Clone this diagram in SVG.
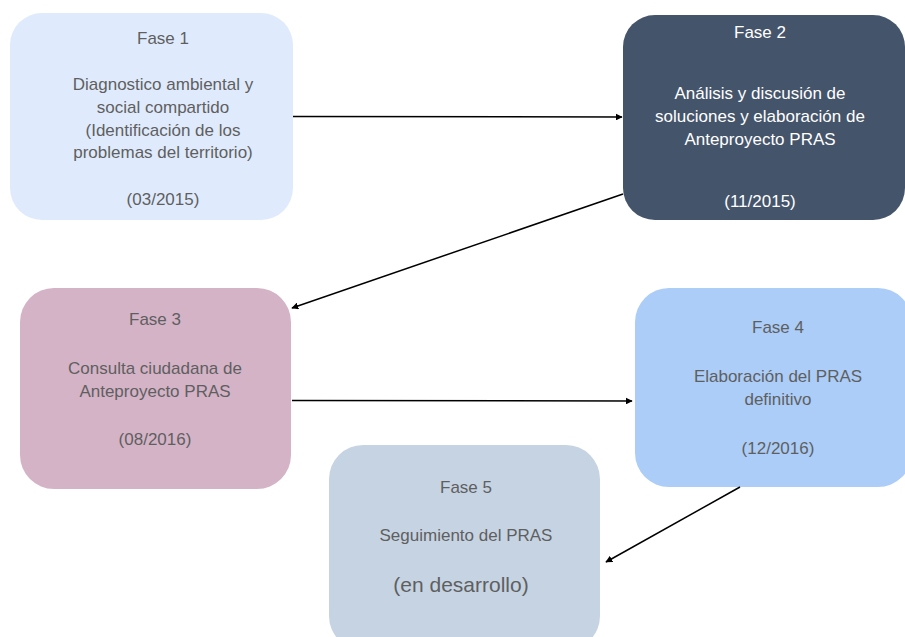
<svg xmlns="http://www.w3.org/2000/svg" width="905" height="637" viewBox="0 0 905 637">
<defs>
<style>
.t{font-family:"Liberation Sans",Arial,sans-serif;font-size:17px;fill:#5f5f5f;text-anchor:middle}
.w{fill:#ffffff}
.big{font-size:21px}
.c{stroke:#000;stroke-width:1.5;fill:none;marker-end:url(#ah)}
</style>
<marker id="ah" viewBox="0 0 10 10" refX="9" refY="5" markerWidth="7" markerHeight="7" markerUnits="userSpaceOnUse" orient="auto">
<path d="M0,0 L10,5 L0,10 z" fill="#000"/>
</marker>
</defs>
<rect width="905" height="637" fill="#ffffff"/>
<g id="fase1">
<rect x="10" y="13" width="283" height="207" rx="32" fill="#dfebfc"/>
<text class="t" x="163" y="44">Fase 1</text>
<text class="t" x="163" y="90">Diagnostico ambiental y</text>
<text class="t" x="163" y="113">social compartido</text>
<text class="t" x="163" y="135.5">(Identificación de los</text>
<text class="t" x="163" y="158">problemas del territorio)</text>
<text class="t" x="163" y="205">(03/2015)</text>
</g>
<g id="fase2">
<rect x="623" y="15" width="282" height="205" rx="32" fill="#44546a"/>
<text class="t w" x="760" y="38">Fase 2</text>
<text class="t w" x="760" y="99">Análisis y discusión de</text>
<text class="t w" x="760" y="122">soluciones y elaboración de</text>
<text class="t w" x="760" y="145">Anteproyecto PRAS</text>
<text class="t w" x="760" y="207">(11/2015)</text>
</g>
<g id="fase3">
<rect x="20" y="288" width="271" height="201" rx="34" fill="#d4b3c7"/>
<text class="t" x="155" y="325">Fase 3</text>
<text class="t" x="155" y="374">Consulta ciudadana de</text>
<text class="t" x="155" y="396.5">Anteproyecto PRAS</text>
<text class="t" x="155" y="445">(08/2016)</text>
</g>
<g id="fase4">
<rect x="635" y="288" width="277" height="199" rx="34" fill="#abcdf8"/>
<text class="t" x="778" y="333">Fase 4</text>
<text class="t" x="778" y="382">Elaboración del PRAS</text>
<text class="t" x="778" y="404.5">definitivo</text>
<text class="t" x="778" y="454">(12/2016)</text>
</g>
<g id="fase5">
<rect x="329" y="445" width="271" height="205" rx="34" fill="#c6d3e3"/>
<text class="t" x="466" y="493">Fase 5</text>
<text class="t" x="466" y="541">Seguimiento del PRAS</text>
<text class="t big" x="461" y="592">(en desarrollo)</text>
</g>
<g id="connectors">
<line class="c" x1="293" y1="116.5" x2="622" y2="117"/>
<line class="c" x1="623" y1="194" x2="292" y2="308"/>
<line class="c" x1="292" y1="400.5" x2="632" y2="401"/>
<line class="c" x1="740" y1="487" x2="606" y2="562"/>
</g>
</svg>
